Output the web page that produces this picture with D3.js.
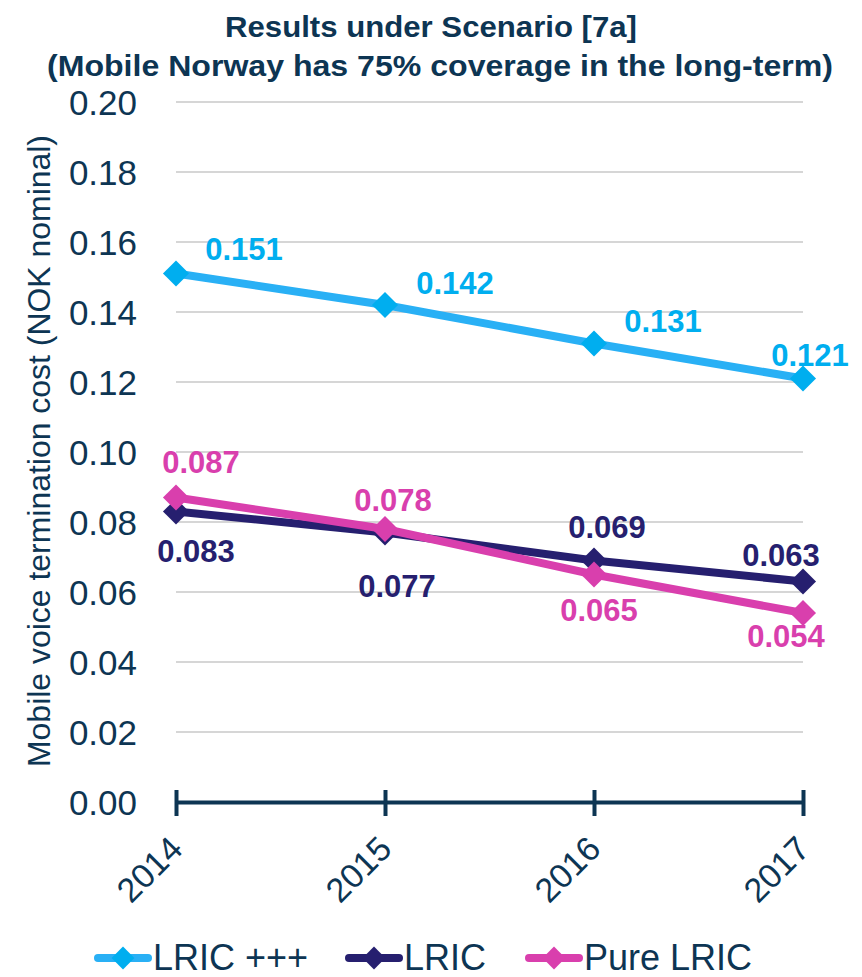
<!DOCTYPE html>
<html>
<head>
<meta charset="utf-8">
<script src="https://cdn.jsdelivr.net/npm/d3@7"></script>
<style>
  body { margin: 0; background: #fff; }
  text { font-family: Arial, "Liberation Sans", sans-serif; }
</style>
</head>
<body>
<script>
// Daten
const years = ["2014", "2015", "2016", "2017"];
const lricPlus = [0.151, 0.142, 0.131, 0.121];
const lric = [0.083, 0.077, 0.069, 0.063];
const pureLric = [0.087, 0.078, 0.065, 0.054];
const yTicks = [0, 0.02, 0.04, 0.06, 0.08, 0.10, 0.12, 0.14, 0.16, 0.18, 0.20];
const seriesNames = ["LRIC +++", "LRIC", "Pure LRIC"];

// label offsets (dx, dy) relative to point
const offPlus = [[68, -24], [70, -22], [69, -22], [7, -23]];
const offLric = [[20, 40], [12, 54], [13, -33], [-22, -26]];
const offPure = [[25, -35], [8, -29], [5, 36], [-17, 23]];

const W = 862, H = 977;
const navy = "#0d3553";
const colors = ["#29b0f5", "#261f6f", "#d93fad"];
const markerColors = ["#00aeef", "#261f6f", "#d93fad"];

const svg = d3.select("body").append("svg")
  .attr("width", W).attr("height", H);

const x = d3.scalePoint().domain(years).range([176, 803]);
const y = d3.scaleLinear().domain([0, 0.20]).range([802, 102]);

// Titel (schmale Schrift nachgebildet)
const title = svg.append("g")
  .style("font-weight", "bold").style("font-size", "30px")
  .attr("fill", navy).attr("text-anchor", "middle");
title.append("text").attr("x", 431).attr("y", 37)
  .attr("textLength", 412).attr("lengthAdjust", "spacingAndGlyphs")
  .text("Results under Scenario [7a]");
title.append("text").attr("x", 440).attr("y", 76)
  .attr("textLength", 786).attr("lengthAdjust", "spacingAndGlyphs")
  .text("(Mobile Norway has 75% coverage in the long-term)");

// Gitterlinien
svg.append("g").selectAll("line")
  .data(yTicks.slice(1))
  .join("line")
  .attr("x1", 176).attr("x2", 803)
  .attr("y1", d => y(d)).attr("y2", d => y(d))
  .attr("stroke", "#c8c8c8").attr("stroke-width", 1.5);

// y Achse
const yAxis = svg.append("g")
  .attr("transform", "translate(137,0)")
  .call(d3.axisLeft(y).tickValues(yTicks).tickFormat(d3.format(".2f")).tickSize(0).tickPadding(0));
yAxis.select(".domain").remove();
yAxis.selectAll("text")
  .style("font-size", "35px").attr("fill", navy).attr("dy", "0.35em");

svg.append("text")
  .attr("transform", "translate(50,451) rotate(-90)")
  .attr("text-anchor", "middle")
  .attr("textLength", 632).attr("lengthAdjust", "spacingAndGlyphs")
  .style("font-size", "32px").attr("fill", navy)
  .text("Mobile voice termination cost (NOK nominal)");

// x Achse
const xAxis = svg.append("g")
  .attr("transform", "translate(0," + y(0) + ")")
  .call(d3.axisBottom(x).tickSizeInner(12).tickSizeOuter(0).tickPadding(0));
xAxis.select(".domain").attr("stroke", navy).attr("stroke-width", 4);
xAxis.selectAll(".tick line")
  .attr("y1", -12).attr("y2", 14)
  .attr("stroke", navy).attr("stroke-width", 4);
xAxis.selectAll(".tick text")
  .style("font-size", "34px").attr("fill", navy)
  .attr("text-anchor", "end")
  .attr("dy", 0).attr("y", 0)
  .attr("transform", "translate(8,49) rotate(-45)");

// Linien
const series = [lricPlus, lric, pureLric];
const offsets = [offPlus, offLric, offPure];
const line = d3.line().x((d, i) => x(years[i])).y(d => y(d));
const diamond = d3.symbol().type(d3.symbolSquare).size(340);
const legDiamond = d3.symbol().type(d3.symbolSquare).size(260);

series.forEach((vals, s) => {
  const g = svg.append("g");
  g.append("path").datum(vals)
    .attr("d", line).attr("fill", "none")
    .attr("stroke", colors[s]).attr("stroke-width", 8);
  g.selectAll("path.m").data(vals).join("path")
    .attr("class", "m")
    .attr("d", diamond)
    .attr("transform", (d, i) => "translate(" + x(years[i]) + "," + y(d) + ") rotate(45)")
    .attr("fill", markerColors[s]);
});

series.forEach((vals, s) => {
  svg.append("g").selectAll("text").data(vals).join("text")
    .attr("x", (d, i) => x(years[i]) + offsets[s][i][0])
    .attr("y", (d, i) => y(d) + offsets[s][i][1])
    .attr("text-anchor", "middle").attr("dy", "0.35em")
    .style("font-size", "31px").style("font-weight", "bold")
    .attr("fill", markerColors[s])
    .text(d => d3.format(".3f")(d));
});

// Legende
const legX = [96, 347, 527];
const leg = svg.append("g");
seriesNames.forEach((n, s) => {
  const lg = leg.append("g").attr("transform", "translate(" + legX[s] + ",958)");
  lg.append("line").attr("x1", 2).attr("x2", 52)
    .attr("stroke", colors[s]).attr("stroke-width", 8).attr("stroke-linecap", "round");
  lg.append("path").attr("d", legDiamond).attr("transform", "translate(27,0) rotate(45)")
    .attr("fill", markerColors[s]);
  lg.append("text").attr("x", 57).attr("y", 12)
    .style("font-size", "36px").attr("fill", navy).text(n);
});
</script>
</body>
</html>
